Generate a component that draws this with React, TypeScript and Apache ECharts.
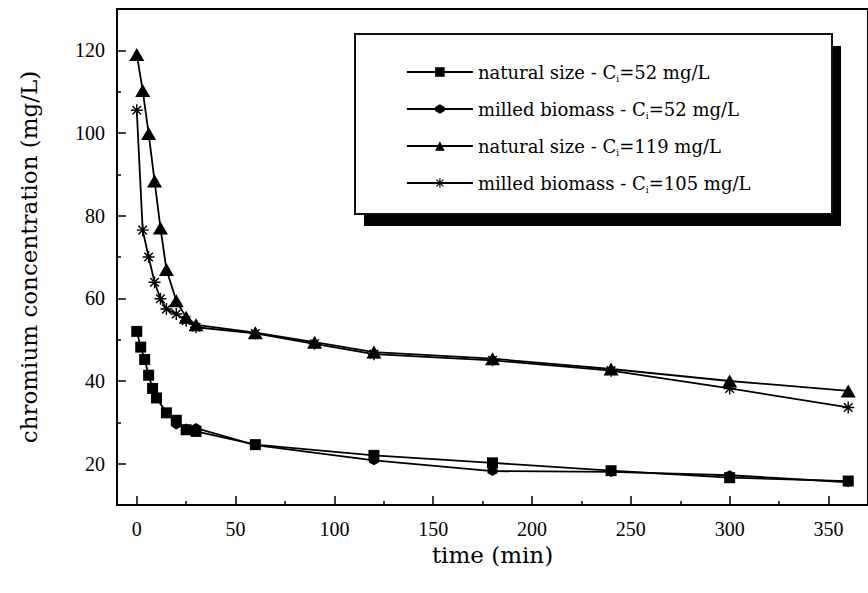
import React, { useEffect, useRef } from 'react';
import * as echarts from 'echarts';

// Sorption kinetics: chromium concentration versus contact time
const timeNat52 = [0, 2, 4, 6, 8, 10, 15, 20, 25, 30, 60, 120, 180, 240, 300, 360];
const concNat52 = [52, 48.2, 45.2, 41.4, 38.2, 35.9, 32.3, 30.5, 28.2, 27.8, 24.6, 22, 20.2, 18.3, 16.6, 15.8];

const timeMil52 = [20, 25, 30, 60, 120, 180, 240, 300, 360];
const concMil52 = [29.5, 28.5, 28.6, 24.5, 20.8, 18.2, 18, 17.2, 15.5];

const timeNat119 = [0, 3, 6, 9, 12, 15, 20, 25, 30, 60, 90, 120, 180, 240, 300, 360];
const concNat119 = [119, 110.3, 99.9, 88.4, 77, 67, 59.4, 55.4, 53.6, 51.7, 49.4, 47, 45.4, 42.9, 40, 37.6];

const timeMil105 = [0, 3, 6, 9, 12, 15, 20, 25, 30, 60, 90, 120, 180, 240, 300, 360];
const concMil105 = [105.5, 76.5, 70, 63.9, 59.9, 57.4, 56.2, 54.6, 53, 51.5, 49, 46.5, 45, 42.5, 38.2, 33.6];

const seriesNames = [
  'natural size - Ci=52 mg/L',
  'milled biomass - Ci=52 mg/L',
  'natural size - Ci=119 mg/L',
  'milled biomass - Ci=105 mg/L',
];

const xTickValues = [0, 50, 100, 150, 200, 250, 300, 350];
const xMinorValues = [25, 75, 125, 175, 225, 275, 325];
const yTickValues = [20, 40, 60, 80, 100, 120];
const yMinorValues = [30, 50, 70, 90, 110];

const TICK_FONT = 'Liberation Serif';
const TEXT_FONT = 'DejaVu Serif';

const ASTERISK =
  'path://M8.8,0 L11.2,0 L11.2,20 L8.8,20 Z M0,8.8 L20,8.8 L20,11.2 L0,11.2 Z ' +
  'M2,3.7 L3.7,2 L18,16.3 L16.3,18 Z M16.3,2 L18,3.7 L3.7,18 L2,16.3 Z';
const HEXAGON = 'path://M5,0 L10,2.8 L10,7.2 L5,10 L0,7.2 L0,2.8 Z';

const pairs = (t: number[], c: number[]) => t.map((v, i) => [v, c[i]]);

export default function App() {
  const ref = useRef<HTMLDivElement>(null);

  useEffect(() => {
    if (!ref.current) return;
    const chart = echarts.init(ref.current, undefined, { renderer: 'svg' });

    const lineStyle = { color: '#000', width: 1.8 };
    const itemStyle = { color: '#000' };
    const tickLine = { color: '#000', width: 1.5 };

    const option: any = {
      animation: false,
      backgroundColor: '#fff',
      grid: {
        left: 117,
        top: 9,
        width: 753,
        height: 496,
        show: true,
        borderColor: '#000',
        borderWidth: 2,
        backgroundColor: 'transparent',
      },
      xAxis: [
        {
          type: 'value',
          min: -10,
          max: 370,
          position: 'bottom',
          name: 'time (min)',
          nameLocation: 'middle',
          nameGap: 37,
          nameTextStyle: { fontFamily: TEXT_FONT, fontSize: 23, color: '#000' },
          axisLine: { onZero: false, lineStyle: { color: '#000', width: 2 } },
          axisTick: { inside: true, length: 9, customValues: xTickValues, lineStyle: tickLine },
          axisLabel: { customValues: xTickValues, margin: 14, color: '#000', fontFamily: TICK_FONT, fontSize: 20 },
          splitLine: { show: false },
        },
        {
          type: 'value',
          min: -10,
          max: 370,
          position: 'bottom',
          axisLine: { show: false, onZero: false },
          axisTick: { inside: true, length: 4, customValues: xMinorValues, lineStyle: tickLine },
          axisLabel: { show: false },
          splitLine: { show: false },
        },
      ],
      yAxis: [
        {
          type: 'value',
          min: 10,
          max: 130,
          position: 'left',
          name: 'chromium concentration (mg/L)',
          nameLocation: 'middle',
          nameGap: 77,
          nameTextStyle: { fontFamily: TEXT_FONT, fontSize: 23, color: '#000' },
          axisLine: { onZero: false, lineStyle: { color: '#000', width: 2 } },
          axisTick: { inside: true, length: 9, customValues: yTickValues, lineStyle: tickLine },
          axisLabel: { customValues: yTickValues, margin: 12, color: '#000', fontFamily: TICK_FONT, fontSize: 20 },
          splitLine: { show: false },
        },
        {
          type: 'value',
          min: 10,
          max: 130,
          position: 'left',
          axisLine: { show: false, onZero: false },
          axisTick: { inside: true, length: 4, customValues: yMinorValues, lineStyle: tickLine },
          axisLabel: { show: false },
          splitLine: { show: false },
        },
      ],
      graphic: [
        { type: 'rect', z: 1, shape: { x: 364, y: 46, width: 477, height: 180 }, style: { fill: '#000' } },
        {
          type: 'rect',
          z: 2,
          shape: { x: 355, y: 34, width: 477, height: 180 },
          style: { fill: '#fff', stroke: '#111', lineWidth: 2 },
        },
      ],
      legend: {
        orient: 'vertical',
        left: 401,
        top: 57,
        z: 10,
        itemWidth: 66,
        itemHeight: 12,
        itemGap: 16,
        data: seriesNames,
        formatter: (n: string) => n.replace('Ci', 'C{s|i}'),
        lineStyle: { width: 1.8 },
        textStyle: {
          fontFamily: TEXT_FONT,
          fontSize: 18,
          color: '#000',
          lineHeight: 20,
          rich: { s: { fontFamily: TEXT_FONT, fontSize: 9, color: '#000', padding: [13, 0, 0, 0] } },
        },
      },
      series: [
        {
          type: 'line',
          name: seriesNames[0],
          data: pairs(timeNat52, concNat52),
          symbol: 'rect',
          symbolSize: 11,
          lineStyle,
          itemStyle,
        },
        {
          type: 'line',
          name: seriesNames[1],
          data: pairs(timeMil52, concMil52),
          symbol: HEXAGON,
          symbolSize: 10,
          lineStyle,
          itemStyle,
        },
        {
          type: 'line',
          name: seriesNames[2],
          data: pairs(timeNat119, concNat119),
          symbol: 'triangle',
          symbolSize: [15, 13],
          lineStyle,
          itemStyle,
        },
        {
          type: 'line',
          name: seriesNames[3],
          data: pairs(timeMil105, concMil105),
          symbol: ASTERISK,
          symbolSize: 12,
          lineStyle,
          itemStyle,
        },
      ],
    };

    chart.setOption(option);
    return () => chart.dispose();
  }, []);

  return (
    <div
      ref={ref}
      style={{ position: 'fixed', left: 0, top: 0, width: 868, height: 593, background: '#fff' }}
    />
  );
}
